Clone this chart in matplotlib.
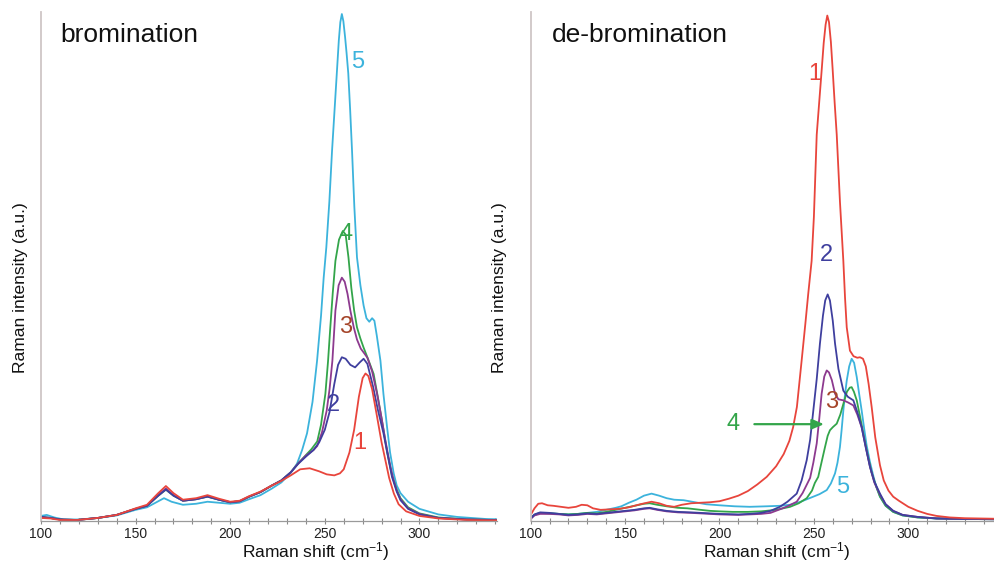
import numpy as np
import matplotlib
matplotlib.use('Agg')
import matplotlib.pyplot as plt
from matplotlib.ticker import MultipleLocator

plt.rcParams['font.family'] = ['Liberation Sans', 'DejaVu Sans']
plt.rcParams['mathtext.fontset'] = 'custom'
plt.rcParams['mathtext.rm'] = 'Liberation Sans'
plt.rcParams['mathtext.it'] = 'Liberation Sans:italic'

# ---- bromination (left) : Raman shift (cm-1) / intensity (a.u., 0..100) ----
br1_x = [100, 105, 110, 119, 130, 140, 150, 156, 162, 166, 170, 175, 182, 188, 194, 200, 205, 210, 216, 222,
         227, 232, 237, 242, 247, 251, 255, 258, 260, 263, 265.5, 268, 270, 271.5, 273, 275, 277.5, 280, 282,
         284, 286.5, 289, 293, 300, 310, 325, 345]
br1_y = [0.6, 0.5, 0.2, 0.2, 0.6, 1.2, 2.5, 3.2, 5.5, 6.9, 5.5, 4.2, 4.5, 5.1, 4.4, 3.8, 4.0, 4.9, 5.8, 7.0,
         7.9, 9.0, 10.2, 10.4, 9.8, 9.2, 9.0, 9.4, 10.2, 13.5, 18.0, 24.5, 28.2, 29.1, 28.6, 26.0, 20.8, 15.5, 12.0,
         8.5, 5.4, 3.3, 1.9, 1.0, 0.5, 0.2, 0.1]

br2_x = [100, 105, 110, 119, 130, 140, 150, 156, 162, 166, 170, 175, 182, 188, 194, 200, 205, 210, 216, 222,
         227, 232, 236, 240, 244, 247, 250, 252.5, 255, 257, 259, 261, 263.5, 266, 268.5, 270.5, 272.5, 275.5,
         278, 281, 283.5, 285.5, 288, 290, 294, 300, 310, 325, 345]
br2_y = [0.8, 0.6, 0.3, 0.2, 0.6, 1.2, 2.4, 3.0, 5.0, 6.2, 5.0, 4.0, 4.3, 4.8, 4.2, 3.7, 3.9, 4.8, 5.7, 7.0,
         8.0, 9.6, 11.3, 12.7, 14.0, 15.5, 18.0, 21.5, 27.0, 30.8, 32.3, 32.0, 30.8, 30.3, 31.3, 32.0, 31.0, 26.5,
         22.0, 17.3, 12.5, 8.7, 5.8, 4.1, 2.4, 1.3, 0.6, 0.3, 0.15]

br3_x = [100, 105, 110, 119, 130, 140, 150, 156, 162, 166, 170, 175, 182, 188, 194, 200, 205, 210, 216, 222,
         227, 232, 236, 240, 244, 246, 248.5, 251, 252.5, 254, 255.6, 257.3, 259, 260.5, 262, 263.5, 265.3, 267,
         269, 271, 272.5, 275, 277.6, 280, 282, 284.5, 286.3, 288, 290, 294, 300, 310, 325, 345]
br3_y = [0.8, 0.6, 0.3, 0.2, 0.6, 1.2, 2.4, 3.0, 5.1, 6.4, 5.1, 4.0, 4.3, 4.9, 4.2, 3.7, 3.9, 4.8, 5.7, 7.0,
         8.0, 9.6, 11.4, 12.9, 14.0, 14.8, 17.5, 21.8, 26.0, 31.6, 41.5, 46.5, 48.0, 47.2, 44.8, 41.5, 38.2, 35.8,
         34.0, 33.0, 32.2, 29.5, 25.1, 20.3, 15.9, 11.0, 8.1, 6.0, 4.3, 2.5, 1.4, 0.6, 0.3, 0.15]

br4_x = [100, 105, 110, 119, 130, 140, 150, 156, 162, 166, 170, 175, 182, 188, 194, 200, 205, 210, 216, 222,
         227, 232, 236, 240, 243, 246, 248, 250.3, 251.7, 252.9, 254.2, 255.6, 257.5, 259.5, 261, 262.5, 264,
         265.5, 267, 268.8, 270.5, 273, 275.8, 278, 280.2, 283, 285.5, 288, 290, 294, 300, 310, 325, 345]
br4_y = [0.8, 0.6, 0.3, 0.2, 0.6, 1.2, 2.4, 3.0, 5.0, 6.2, 5.0, 4.0, 4.3, 4.8, 4.2, 3.7, 3.9, 4.8, 5.7, 7.0,
         8.0, 9.6, 11.4, 13.0, 14.2, 15.7, 19.0, 25.1, 31.5, 38.2, 45.0, 51.3, 55.5, 57.2, 56.5, 52.0, 46.0,
         41.5, 38.2, 36.0, 34.2, 31.8, 29.0, 24.5, 19.8, 13.5, 9.0, 6.2, 4.5, 2.7, 1.5, 0.7, 0.3, 0.15]

br5_x = [100, 103, 107, 112, 120, 130, 140, 150, 156, 161, 165, 169, 175, 182, 188, 194, 200, 205, 210, 216,
         222, 227, 232, 235.3, 238, 240.6, 243.5, 245.9, 248, 249.4, 250.8, 252.4, 253.8, 255.3, 256.5, 257.4,
         258.2, 259.0, 259.8, 260.7, 261.5, 262.4, 263.4, 264.4, 265.6, 267, 268.8, 270.5, 272, 273.5, 275,
         276.2, 277.5, 279.4, 281, 282.9, 284.5, 286.4, 288, 290, 294, 300, 310, 320, 335, 345]
br5_y = [1.0, 1.2, 0.7, 0.3, 0.3, 0.6, 1.1, 2.2, 2.7, 3.7, 4.5, 3.8, 3.2, 3.4, 3.8, 3.6, 3.4, 3.6, 4.3, 5.1,
         6.4, 7.6, 9.5, 11.3, 14.0, 17.3, 23.5, 31.6, 40.5, 48.0, 54.0, 63.0, 72.9, 82.0, 89.3, 94.8,
         98.4, 100.0, 98.6, 95.5, 92.3, 88.3, 81.0, 72.9, 62.0, 52.0, 46.5, 42.5, 40.0, 39.3, 40.0,
         39.5, 36.5, 31.6, 25.0, 18.5, 13.5, 9.4, 7.0, 5.5, 3.8, 2.4, 1.3, 0.8, 0.4, 0.3]

# ---- de-bromination (right) ----
db1_x = [100, 102, 104, 106, 109, 112, 116, 120, 124, 127, 130, 133, 137, 142, 147, 152, 158, 164, 168, 172,
         176, 180, 185, 190, 195, 200, 205, 210, 215, 220, 225, 230, 234, 237, 239, 241, 243.5, 245.5, 247,
         248.8, 250, 251.5, 253, 254.2, 255.2, 256.2, 257.1, 258.0, 259.0, 259.9, 261, 262.1, 263.8, 265.6,
         266.5, 267.4, 269.1, 271, 273, 274.4, 276, 277.5, 279, 280.6, 282.5, 285, 287, 289.5, 292, 295, 300,
         305, 310, 315, 322, 330, 345]
db1_y = [1.2, 2.5, 3.4, 3.5, 3.1, 3.0, 2.8, 2.6, 2.8, 3.2, 3.1, 2.5, 2.2, 2.3, 2.4, 2.7, 3.3, 3.8, 3.5, 3.0,
         2.8, 3.2, 3.5, 3.6, 3.7, 3.9, 4.4, 5.0, 5.9, 7.2, 8.7, 10.8, 13.2, 15.8, 18.5, 22.5, 31.6, 39.0, 44.8,
         51.3, 60.0, 76.2, 83.5, 89.3, 94.3, 97.9, 99.7, 98.4, 94.5, 89.3, 82.5, 76.2, 63.0, 51.3,
         44.0, 38.2, 33.6, 32.5, 32.2, 32.3, 32.0, 30.5, 27.0, 22.5, 16.5, 11.0, 8.0, 6.0, 4.8, 4.0, 2.8,
         2.0, 1.4, 1.0, 0.7, 0.55, 0.45]

db2_x = [100, 102, 105, 110, 115, 120, 125, 130, 135, 140, 145, 150, 155, 160, 163, 167, 172, 178, 185, 190,
         195, 200, 210, 216, 222, 227, 232, 236, 240.9, 243.5, 246.2, 248, 249.7, 251.5, 253.2, 254.8, 256,
         257.3, 258.5, 260, 261.2, 263, 265.6, 268, 270.9, 273, 275.3, 277.5, 279.7, 282, 285, 288, 292, 297,
         305, 315, 330, 345]
db2_y = [0.5, 1.3, 1.7, 1.6, 1.4, 1.2, 1.3, 1.5, 1.4, 1.6, 1.8, 2.0, 2.2, 2.5, 2.6, 2.3, 2.0, 1.8, 1.7, 1.6,
         1.5, 1.4, 1.3, 1.4, 1.6, 2.0, 2.8, 3.8, 5.4, 8.0, 12.0, 16.0, 21.8, 28.0, 35.0, 40.5, 43.5,
         44.7, 43.5, 39.5, 35.0, 30.0, 25.7, 24.5, 23.8, 21.5, 18.5, 14.5, 10.7, 7.8, 5.4, 3.3, 2.0, 1.2,
         0.8, 0.5, 0.4, 0.35]

db3_x = [100, 102, 105, 110, 115, 120, 125, 130, 135, 140, 145, 150, 155, 160, 163, 167, 172, 178, 185, 190,
         195, 200, 210, 216, 222, 227, 232, 236, 240.9, 244, 246, 248, 249.7, 251.5, 252.8, 254.1, 255.5,
         256.8, 258, 259.5, 261.2, 263, 265.6, 268, 270.9, 273, 275.3, 277.5, 279.7, 282, 285, 288, 292, 297,
         305, 315, 330, 345]
db3_y = [0.4, 1.1, 1.4, 1.4, 1.3, 1.1, 1.2, 1.4, 1.3, 1.5, 1.7, 1.9, 2.1, 2.4, 2.5, 2.2, 1.9, 1.7, 1.6, 1.5,
         1.4, 1.3, 1.2, 1.3, 1.4, 1.6, 2.3, 2.9, 3.8, 5.5, 7.0, 8.5, 11.5, 15.3, 20.0, 25.1, 28.5,
         29.7, 29.3, 27.8, 25.1, 24.0, 23.8, 23.4, 22.8, 21.0, 18.5, 14.5, 10.7, 7.6, 5.2, 3.3, 2.0, 1.2,
         0.8, 0.5, 0.4, 0.35]

db4_x = [100, 102, 105, 110, 115, 120, 125, 130, 135, 140, 145, 150, 155, 160, 163, 167, 172, 178, 183, 190,
         195, 200, 207, 215, 222, 230, 237.4, 242, 246.2, 249, 250.5, 252.3, 254, 255.9, 257.3, 258.5, 260,
         262.1, 264, 265.6, 267.5, 269, 270, 271.2, 272.7, 274.5, 276.2, 278.5, 280.6, 283, 285, 288, 292, 297,
         305, 315, 330, 345]
db4_y = [0.6, 1.2, 1.6, 1.5, 1.4, 1.3, 1.4, 1.6, 1.5, 1.8, 2.2, 2.6, 3.0, 3.4, 3.5, 3.2, 2.9, 2.6, 2.5, 2.2,
         2.0, 1.9, 1.8, 1.8, 1.9, 2.2, 2.8, 3.5, 4.5, 6.0, 7.5, 8.7, 11.5, 14.6, 16.8, 17.9, 18.5,
         19.2, 21.0, 23.1, 25.5, 26.3, 26.4, 25.5, 23.8, 20.5, 17.2, 13.0, 9.5, 6.8, 4.8, 3.0, 1.8, 1.1,
         0.7, 0.5, 0.4, 0.35]

db5_x = [100, 102, 105, 110, 115, 120, 125, 130, 135, 140, 145, 148, 152, 156, 160, 164, 168, 172, 176, 181,
         187, 193, 200, 208, 216, 225, 232, 237.4, 243, 249.7, 253, 256.8, 259, 261.2, 262.5, 263.8, 264.7,
         265.6, 266.5, 267.4, 268.7, 270, 271.3, 272.7, 274, 275.3, 276.6, 277.9, 279.6, 281.4, 283, 285, 288,
         292, 297, 305, 315, 330, 345]
db5_y = [0.6, 1.2, 1.6, 1.5, 1.4, 1.3, 1.4, 1.6, 1.8, 2.2, 2.6, 2.9, 3.6, 4.2, 5.0, 5.4, 5.0, 4.5, 4.2, 4.1,
         3.7, 3.3, 3.1, 2.9, 2.8, 2.9, 3.0, 3.2, 3.8, 4.8, 5.3, 6.1, 7.4, 9.4, 11.5, 14.6, 18.0,
         21.8, 25.0, 27.7, 30.5, 32.0, 31.2, 28.4, 25.0, 21.8, 18.3, 15.0, 11.8, 9.0, 6.8, 4.8, 3.0,
         1.8, 1.1, 0.7, 0.5, 0.4, 0.35]

red = '#e8453c'
blue = '#3f3f9e'
purple = '#8d3a8f'
green = '#33a54a'
cyan = '#3cb3dc'
brown = '#a5452a'


def style_axes(ax, xmax):
    ax.set_xlim(100, xmax)
    ax.set_ylim(0, 100.4)
    for s in ['top', 'right']:
        ax.spines[s].set_visible(False)
    ax.spines['left'].set_color('#cfc6c6')
    ax.spines['left'].set_linewidth(1.3)
    ax.spines['bottom'].set_color('#9a9a9a')
    ax.spines['bottom'].set_linewidth(0.9)
    ax.set_yticks([])
    ax.xaxis.set_major_locator(MultipleLocator(50))
    ax.xaxis.set_minor_locator(MultipleLocator(10))
    ax.tick_params(axis='x', which='both', direction='inout', length=4, width=0.8,
                   colors='#8a8a8a', labelcolor='#222222', labelsize=10, pad=2)
    ax.set_facecolor('none')


fig = plt.figure(figsize=(9.94, 5.62), dpi=100)
W, H = 994.0, 562.0
ax1 = fig.add_axes([41 / W, 1 - 521 / H, (497 - 41) / W, (521 - 12) / H])
ax2 = fig.add_axes([530.7 / W, 1 - 521 / H, (994 - 530.7) / W, (521 - 12) / H])
style_axes(ax1, 341)
style_axes(ax2, 345.4)

lw = 1.3
ax1.plot(br5_x, br5_y, color=cyan, lw=lw)
ax1.plot(br4_x, br4_y, color=green, lw=lw)
ax1.plot(br3_x, br3_y, color=purple, lw=lw)
ax1.plot(br2_x, br2_y, color=blue, lw=lw)
ax1.plot(br1_x, br1_y, color=red, lw=lw)

ax2.plot(db5_x, db5_y, color=cyan, lw=lw)
ax2.plot(db4_x, db4_y, color=green, lw=lw)
ax2.plot(db3_x, db3_y, color=purple, lw=lw)
ax2.plot(db2_x, db2_y, color=blue, lw=lw)
ax2.plot(db1_x, db1_y, color=red, lw=lw)

fs_num = 17
ax1.text(267.5, 90.6, '5', color=cyan, fontsize=fs_num, ha='center', va='center')
ax1.text(261.1, 56.6, '4', color=green, fontsize=fs_num, ha='center', va='center')
ax1.text(261.1, 38.3, '3', color=brown, fontsize=fs_num, ha='center', va='center')
ax1.text(254.3, 22.8, '2', color=blue, fontsize=fs_num, ha='center', va='center')
ax1.text(268.5, 15.3, '1', color=red, fontsize=fs_num, ha='center', va='center')

ax2.text(250.6, 88.2, '1', color=red, fontsize=fs_num, ha='center', va='center')
ax2.text(256.4, 52.4, '2', color=blue, fontsize=fs_num, ha='center', va='center')
ax2.text(259.6, 23.4, '3', color=brown, fontsize=fs_num, ha='center', va='center')
ax2.text(207.1, 19.1, '4', color=green, fontsize=fs_num, ha='center', va='center')
ax2.text(265.4, 6.7, '5', color=cyan, fontsize=fs_num, ha='center', va='center')
ax2.annotate('', xy=(256.8, 19.1), xytext=(217.0, 19.1),
             arrowprops=dict(arrowstyle='-|>,head_length=0.7,head_width=0.3', color=green, lw=1.6))

ax1.text(0.042, 0.955, 'bromination', transform=ax1.transAxes, fontsize=19, ha='left', va='center', color='#111111')
ax2.text(0.046, 0.955, 'de-bromination', transform=ax2.transAxes, fontsize=19, ha='left', va='center', color='#111111')

fig.text(21 / W, 1 - 288 / H, 'Raman intensity (a.u.)', rotation=90, fontsize=12.5, ha='center', va='center', color='#111111')
fig.text(500 / W, 1 - 288 / H, 'Raman intensity (a.u.)', rotation=90, fontsize=12.5, ha='center', va='center', color='#111111')
fig.text(316 / W, 1 - 552 / H, r'Raman shift (cm$^{\mathregular{-1}}$)', fontsize=12.5, ha='center', va='center', color='#111111')
fig.text(777 / W, 1 - 552 / H, r'Raman shift (cm$^{\mathregular{-1}}$)', fontsize=12.5, ha='center', va='center', color='#111111')

fig.savefig('out.png', dpi=100, facecolor='white')
